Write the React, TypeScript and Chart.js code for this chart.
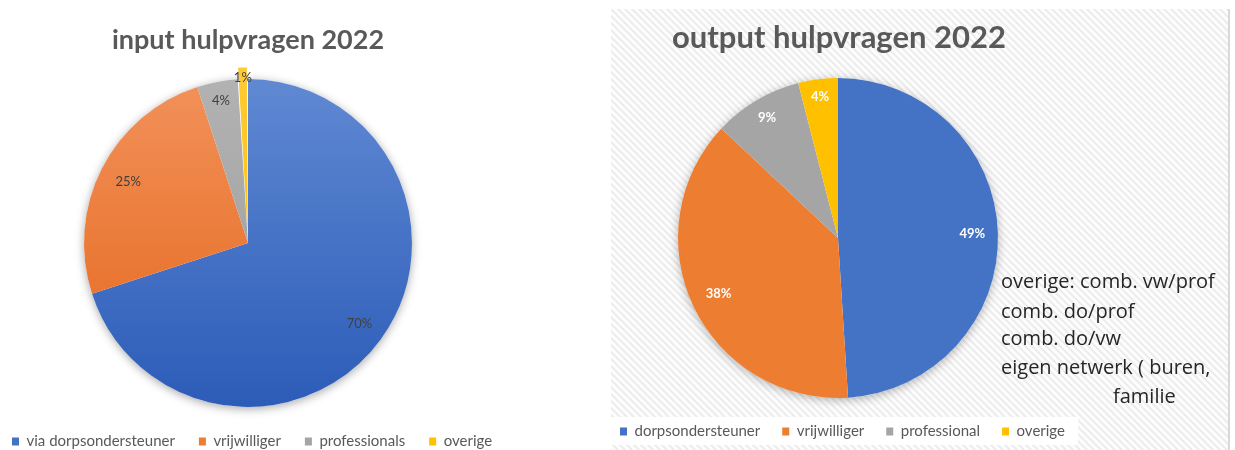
import React, { useEffect, useRef } from 'react';
import { Chart, registerables } from 'chart.js';

Chart.register(...registerables);

// ---- data ----
const inputTitle = 'input hulpvragen 2022';
const inputLabels = ['via dorpsondersteuner', 'vrijwilliger', 'professionals', 'overige'];
const inputValues = [70, 25, 4, 1];

const outputTitle = 'output hulpvragen 2022';
const outputLabels = ['dorpsondersteuner', 'vrijwilliger', 'professional', 'overige'];
const outputValues = [49, 38, 9, 4];

const noteLines = ['overige: comb. vw/prof', 'comb. do/prof', 'comb. do/vw', 'eigen netwerk ( buren,', 'familie'];

// ---- styles ----
const COLORS = ['#4472C4', '#ED7D31', '#A5A5A5', '#FFC000'];
const GRAD_TOP = ['#6089d3', '#f2915a', '#b2b2b2', '#ffcb33'];
const GRAD_BOTTOM = ['#2c5cb8', '#e4661a', '#9b9b9b', '#f7b900'];
const inputOffsets = [0, 0, 0, 24];
const inputLabelFrac = [0.84, 0.82, 0.88, 0.86];
const outputLabelFrac = [0.84, 0.825, 0.87, 0.89];

const placePlugin = {
  id: 'place',
  afterLayout(chart: any, _a: any, opts: any) {
    const a = chart.chartArea;
    a.left = opts.cx - opts.half;
    a.right = opts.cx + opts.half;
    a.top = opts.cy - opts.half;
    a.bottom = opts.cy + opts.half;
    a.width = opts.half * 2;
    a.height = opts.half * 2;
  },
};

const shadowPlugin = {
  id: 'pieShadow',
  beforeDatasetsDraw(chart: any, _a: any, opts: any) {
    const meta = chart.getDatasetMeta(0);
    const arc = meta.data[0];
    if (!arc) return;
    const ctx = chart.ctx;
    ctx.save();
    ctx.shadowColor = opts.color || 'rgba(0,0,0,0.3)';
    ctx.shadowBlur = opts.blur ?? 10;
    ctx.shadowOffsetY = opts.dy ?? 2;
    ctx.fillStyle = opts.fill || '#ffffff';
    ctx.beginPath();
    ctx.arc(arc.x, arc.y, arc.outerRadius, 0, Math.PI * 2);
    ctx.fill();
    ctx.restore();
  },
};

const pctPlugin = {
  id: 'pct',
  afterDatasetsDraw(chart: any, _a: any, opts: any) {
    const meta = chart.getDatasetMeta(0);
    const data = chart.data.datasets[0].data as number[];
    const total = data.reduce((s, v) => s + v, 0);
    const ctx = chart.ctx;
    ctx.save();
    ctx.font = opts.font;
    ctx.fillStyle = opts.color;
    ctx.textAlign = 'center';
    ctx.textBaseline = 'middle';
    meta.data.forEach((arc: any, i: number) => {
      const mid = (arc.startAngle + arc.endAngle) / 2;
      const off = (arc.options && arc.options.offset) || 0;
      const d = opts.frac[i] * arc.outerRadius + off;
      const x = arc.x + Math.cos(mid) * d;
      const y = arc.y + Math.sin(mid) * d;
      ctx.fillText(Math.round((data[i] / total) * 100) + '%', x, y);
    });
    ctx.restore();
  },
};

const titlePlugin = {
  id: 'ownTitle',
  afterDraw(chart: any, _a: any, opts: any) {
    const ctx = chart.ctx;
    ctx.save();
    ctx.font = opts.font;
    ctx.fillStyle = opts.color;
    ctx.textAlign = 'center';
    ctx.textBaseline = 'middle';
    ctx.fillText(opts.text, opts.x, opts.y);
    ctx.restore();
  },
};

const notePlugin = {
  id: 'note',
  afterDraw(chart: any, _a: any, opts: any) {
    if (!opts.lines) return;
    const ctx = chart.ctx;
    ctx.save();
    ctx.font = opts.font;
    ctx.fillStyle = opts.color;
    ctx.textAlign = 'left';
    ctx.textBaseline = 'middle';
    opts.lines.forEach((t: string, i: number) => {
      ctx.fillText(t, opts.xs[i], opts.ys[i]);
    });
    ctx.restore();
  },
};

function makePattern(ctx: CanvasRenderingContext2D) {
  const s = 7;
  const c = document.createElement('canvas');
  c.width = s;
  c.height = s;
  const p = c.getContext('2d')!;
  p.fillStyle = '#fdfdfd';
  p.fillRect(0, 0, s, s);
  p.strokeStyle = '#ececec';
  p.lineWidth = 2;
  p.beginPath();
  p.moveTo(-1, -1); p.lineTo(s + 1, s + 1);
  p.moveTo(-1, s - 1); p.lineTo(1, s + 1);
  p.moveTo(s - 1, -1); p.lineTo(s + 1, 1);
  p.stroke();
  return ctx.createPattern(c, 'repeat');
}

const bgPlugin = {
  id: 'hatchBg',
  beforeDraw(chart: any) {
    const ctx = chart.ctx;
    ctx.save();
    const pat = makePattern(ctx);
    if (pat) ctx.fillStyle = pat;
    ctx.fillRect(1, 1, 617, 441);
    ctx.fillStyle = '#ffffff';
    ctx.fillRect(1, 409, 467, 28);
    ctx.fillStyle = '#d9d9d9';
    ctx.fillRect(618, 1, 2, 441);
    ctx.restore();
  },
};

function legendItems(chart: any) {
  return (chart.data.labels as string[]).map((text, i) => ({
    text,
    fillStyle: COLORS[i],
    strokeStyle: COLORS[i],
    lineWidth: 0,
    fontColor: '#595959',
    hidden: false,
    index: i,
  }));
}

function gradientColor(c: any) {
  const i = c.dataIndex ?? 0;
  const chart = c.chart;
  const a = chart.chartArea;
  if (!a) return COLORS[i];
  const g = chart.ctx.createLinearGradient(0, a.top, 0, a.bottom);
  g.addColorStop(0, GRAD_TOP[i]);
  g.addColorStop(1, GRAD_BOTTOM[i]);
  return g;
}

export default function App() {
  const leftRef = useRef<HTMLCanvasElement>(null);
  const rightRef = useRef<HTMLCanvasElement>(null);

  useEffect(() => {
    const left = new Chart(leftRef.current!, {
      type: 'pie',
      data: {
        labels: inputLabels,
        datasets: [
          {
            data: inputValues,
            backgroundColor: gradientColor,
            borderWidth: 0,
            offset: inputOffsets,
            hoverOffset: 0,
            clip: false,
          } as any,
        ],
      },
      options: {
        responsive: false,
        animation: false,
        radius: 164,
        layout: { padding: { left: -12, right: 0, top: 0, bottom: -9 } },
        plugins: {
          tooltip: { enabled: false },
          title: { display: false },
          legend: {
            position: 'bottom',
            align: 'start',
            labels: {
              boxWidth: 7,
              boxHeight: 8,
              padding: 24,
              color: '#595959',
              font: { family: 'Lato', size: 15 },
              generateLabels: legendItems,
            },
          },
          place: { cx: 248, cy: 243, half: 164 },
          pieShadow: { color: 'rgba(0,0,0,0.35)', blur: 10, dy: 2 },
          pct: { font: '13px Lato', color: '#404040', frac: inputLabelFrac },
          ownTitle: { text: inputTitle, x: 248, y: 40, font: 'bold 27px Lato', color: '#595959' },
          note: {},
        } as any,
      } as any,
      plugins: [placePlugin, shadowPlugin, pctPlugin, titlePlugin, notePlugin],
    });

    const right = new Chart(rightRef.current!, {
      type: 'pie',
      data: {
        labels: outputLabels,
        datasets: [
          {
            data: outputValues,
            backgroundColor: COLORS,
            borderWidth: 0,
            hoverOffset: 0,
            clip: false,
          } as any,
        ],
      },
      options: {
        responsive: false,
        animation: false,
        radius: 160,
        layout: { padding: { left: -12, right: 0, top: 0, bottom: 1 } },
        plugins: {
          tooltip: { enabled: false },
          title: { display: false },
          legend: {
            position: 'bottom',
            align: 'start',
            labels: {
              boxWidth: 7,
              boxHeight: 8,
              padding: 22,
              color: '#595959',
              font: { family: 'Lato', size: 15 },
              generateLabels: legendItems,
            },
          },
          place: { cx: 228, cy: 230, half: 160 },
          pieShadow: { color: 'rgba(0,0,0,0.3)', blur: 10, dy: 2 },
          pct: { font: 'bold 13px Lato', color: '#ffffff', frac: outputLabelFrac },
          ownTitle: { text: outputTitle, x: 229, y: 30, font: 'bold 31px Lato', color: '#595959' },
          note: {
            lines: noteLines,
            xs: [391, 391, 391, 391, 503],
            ys: [274, 304, 331, 360, 389],
            font: '20px "Open Sans"',
            color: '#262626',
          },
        } as any,
      } as any,
      plugins: [bgPlugin, placePlugin, shadowPlugin, pctPlugin, titlePlugin, notePlugin],
    });

    return () => {
      left.destroy();
      right.destroy();
    };
  }, []);

  return (
    <div
      style={{
        position: 'fixed',
        left: 0,
        top: 0,
        width: 1235,
        height: 450,
        background: '#ffffff',
        overflow: 'hidden',
      }}
    >
      <canvas
        ref={leftRef}
        width={600}
        height={450}
        style={{ position: 'absolute', left: 0, top: 0, width: 600, height: 450 }}
      />
      <canvas
        ref={rightRef}
        width={622}
        height={442}
        style={{ position: 'absolute', left: 610, top: 8, width: 622, height: 442 }}
      />
    </div>
  );
}
